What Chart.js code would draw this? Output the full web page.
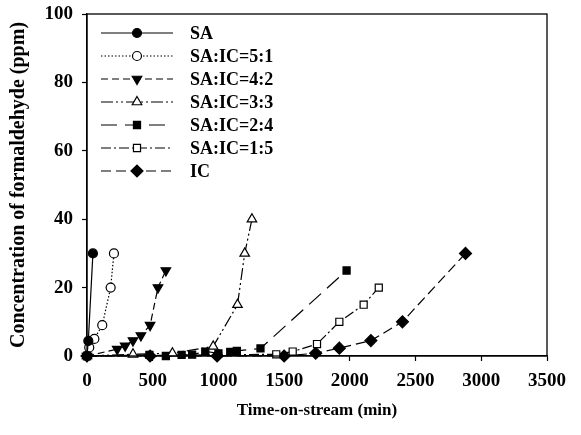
<!DOCTYPE html>
<html>
<head>
<meta charset="utf-8">
<script src="https://cdn.jsdelivr.net/npm/chart.js@4.4.1/dist/chart.umd.min.js"></script>
<style>
html,body{margin:0;padding:0;background:#fff;}
#wrap{width:581px;height:435px;}
</style>
</head>
<body>
<div id="wrap"><canvas id="c" width="581" height="435"></canvas></div>
<script>
// ---- data (time in min, concentration in ppm) ----
const seriesNames = ['SA', 'SA:IC=5:1', 'SA:IC=4:2', 'SA:IC=3:3', 'SA:IC=2:4', 'SA:IC=1:5', 'IC'];

const saTime = [0, 10, 45];
const saConc = [0, 4.4, 30];

const sa51Time = [0, 17, 56, 116, 180, 205];
const sa51Conc = [0, 2.5, 5, 9, 20, 30];

const sa42Time = [0, 230, 290, 350, 410, 480, 540, 600];
const sa42Conc = [0, 2, 3, 4.5, 6, 9, 20, 25];

const sa33Time = [0, 350, 650, 960, 1145, 1200, 1255];
const sa33Conc = [0, 0.5, 0.8, 2.8, 15, 30, 40];

const sa24Time = [0, 475, 600, 720, 800, 900, 1000, 1090, 1140, 1320, 1975];
const sa24Conc = [0, 0.3, 0, 0.3, 0.4, 1.3, 0.8, 1.2, 1.5, 2.2, 25];

const sa15Time = [0, 1440, 1565, 1750, 1920, 2105, 2220];
const sa15Conc = [0, 0.5, 1.3, 3.5, 10, 15, 20];

const icTime = [0, 480, 990, 1500, 1740, 1920, 2160, 2400, 2880];
const icConc = [0, 0, 0, 0, 0.8, 2.3, 4.5, 10, 30];

const xTicks = [0, 500, 1000, 1500, 2000, 2500, 3000, 3500];
const yTicks = [0, 20, 40, 60, 80, 100];

// ---- styles ----
const pair = (t, c) => t.map((v, i) => ({x: v, y: c[i]}));
const styles = [
  {dash: [], pt: 'circle', fill: '#000', r: 4.5, rot: 0},
  {dash: [1.5, 2], pt: 'circle', fill: '#fff', r: 4.5, rot: 0},
  {dash: [7, 4], pt: 'triangle', fill: '#000', r: 5.5, rot: 180},
  {dash: [12, 3, 2, 3, 2, 3], pt: 'triangle', fill: '#fff', r: 5.5, rot: 0},
  {dash: [16, 8], pt: 'rect', fill: '#000', r: 5, rot: 0},
  {dash: [10, 3, 2, 3], pt: 'rect', fill: '#fff', r: 5, rot: 0},
  {dash: [10, 5], pt: 'rectRot', fill: '#000', r: 6, rot: 0}
];
const dataSets = [
  pair(saTime, saConc), pair(sa51Time, sa51Conc), pair(sa42Time, sa42Conc),
  pair(sa33Time, sa33Conc), pair(sa24Time, sa24Conc), pair(sa15Time, sa15Conc),
  pair(icTime, icConc)
];

const datasets = dataSets.map((d, i) => ({
  label: seriesNames[i],
  data: d,
  showLine: true,
  borderColor: '#000',
  borderWidth: 1.2,
  borderDash: styles[i].dash,
  pointStyle: styles[i].pt,
  pointRotation: styles[i].rot,
  pointRadius: styles[i].r,
  pointHoverRadius: styles[i].r,
  pointBackgroundColor: styles[i].fill,
  pointBorderColor: '#000',
  pointBorderWidth: 1.2,
  tension: 0,
  clip: false
}));

const serif = "'Liberation Serif', 'DejaVu Serif', serif";

const boxPlugin = {
  id: 'box',
  afterDatasetsDraw(chart) {
    const {ctx, chartArea: a} = chart;
    ctx.save();
    ctx.strokeStyle = '#000';
    ctx.lineWidth = 1.3;
    ctx.setLineDash([]);
    ctx.strokeRect(a.left, a.top, a.right - a.left, a.bottom - a.top);
    ctx.restore();
  }
};

const legendPlugin = {
  id: 'lineLegend',
  afterDraw(chart) {
    const ctx = chart.ctx;
    const a = chart.chartArea;
    const x0 = a.left + 14, x1 = a.left + 86, tx = a.left + 103;
    ctx.save();
    chart.data.datasets.forEach((ds, i) => {
      const y = 33 + i * 23;
      ctx.strokeStyle = '#000';
      ctx.lineWidth = 1.2;
      ctx.setLineDash(ds.borderDash);
      ctx.beginPath();
      ctx.moveTo(x0, y);
      ctx.lineTo(x1, y);
      ctx.stroke();
      ctx.setLineDash([]);
      ctx.fillStyle = ds.pointBackgroundColor;
      ctx.lineWidth = 1.2;
      Chart.helpers.drawPoint(ctx, {
        pointStyle: ds.pointStyle,
        rotation: ds.pointRotation,
        radius: ds.pointRadius,
        borderWidth: 1.2
      }, (x0 + x1) / 2, y);
      ctx.fillStyle = '#000';
      ctx.font = "bold 18px " + serif;
      ctx.textBaseline = 'middle';
      ctx.textAlign = 'left';
      ctx.fillText(ds.label, tx, y + 1);
    });
    ctx.restore();
  }
};

new Chart(document.getElementById('c'), {
  type: 'scatter',
  data: {datasets},
  options: {
    responsive: false,
    animation: false,
    devicePixelRatio: 1,
    layout: {padding: {top: 14, right: 34, bottom: 0, left: 0}},
    plugins: {legend: {display: false}, tooltip: {enabled: false}},
    scales: {
      x: {
        type: 'linear',
        min: 0, max: 3500,
        afterFit(s) { s.height = 79; s.paddingLeft = 0; s.paddingRight = 0; },
        afterBuildTicks(s) { s.ticks = xTicks.map(v => ({value: v})); },
        grid: {drawOnChartArea: false, color: '#000', tickLength: 5, tickWidth: 1.2},
        border: {color: '#000', width: 1.3},
        ticks: {color: '#000', padding: 9, maxRotation: 0, callback: v => String(v), font: {family: serif, size: 19, weight: 'bold'}},
        title: {display: true, text: 'Time-on-stream (min)', color: '#000', padding: {top: 4, bottom: 14}, font: {family: serif, size: 17, weight: 'bold'}}
      },
      y: {
        type: 'linear',
        min: 0, max: 100,
        afterFit(s) { s.width = 87; s.paddingTop = 0; s.paddingBottom = 0; },
        afterBuildTicks(s) { s.ticks = yTicks.map(v => ({value: v})); },
        grid: {drawOnChartArea: false, color: '#000', tickLength: 5, tickWidth: 1.2},
        border: {color: '#000', width: 1.3},
        ticks: {color: '#000', padding: 9, callback: v => String(v), font: {family: serif, size: 19, weight: 'bold'}},
        title: {display: true, text: 'Concentration of formaldehyde (ppm)', color: '#000', padding: {top: 7, bottom: 0}, font: {family: serif, size: 20, weight: 'bold'}}
      }
    }
  },
  plugins: [boxPlugin, legendPlugin]
});
</script>
</body>
</html>
